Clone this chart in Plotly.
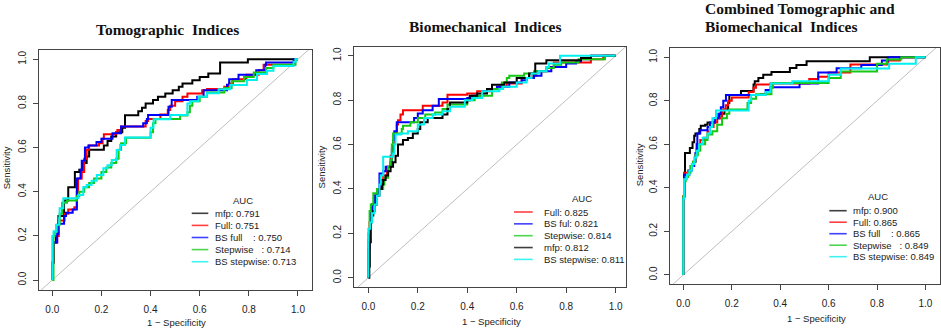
import plotly.graph_objects as go

W, H = 941, 331

# ---------------- data ----------------
TICK_VALS = [0.0, 0.2, 0.4, 0.6, 0.8, 1.0]
TICK_TEXT = ["0.0", "0.2", "0.4", "0.6", "0.8", "1.0"]
DIAG = [-0.2, 1.2]

PANEL_TITLES = [["Tomographic\u00a0 Indices"],
                ["Biomechanical\u00a0 Indices"],
                ["Combined Tomographic and", "Biomechanical\u00a0 Indices"]]
X_TITLE = "1 \u2212 Specificity"
Y_TITLE = "Sensitivity"
LEGEND_TITLE = "AUC"

# Panel 1: Tomographic indices
P1_LABELS = ["mfp: 0.791", "Full: 0.751", "BS full\u00a0\u00a0\u00a0\u00a0: 0.750",
             "Stepwise\u00a0\u00a0\u00a0: 0.714", "BS stepwise: 0.713"]
P1_COLORS = ["black", "red", "blue", "green", "cyan"]
P1_MFP_FPR = [0, 0, 0.007, 0.015, 0.025, 0.048, 0.065, 0.092, 0.11, 0.125, 0.14, 0.15, 0.21, 0.225, 0.24, 0.26, 0.285, 0.296, 0.35, 0.365, 0.38, 0.41, 0.43, 0.46, 0.49, 0.515, 0.53, 0.57, 0.6, 0.635, 0.683, 0.796, 1.0]
P1_MFP_TPR = [0, 0.08, 0.17, 0.2, 0.29, 0.36, 0.42, 0.49, 0.5, 0.53, 0.56, 0.59, 0.61, 0.63, 0.65, 0.67, 0.69, 0.747, 0.765, 0.78, 0.8, 0.815, 0.83, 0.845, 0.86, 0.875, 0.89, 0.905, 0.92, 0.935, 0.985, 1.0, 1.0]
P1_FULL_FPR = [0, 0, 0.007, 0.02, 0.025, 0.05, 0.065, 0.09, 0.1, 0.105, 0.12, 0.13, 0.14, 0.15, 0.19, 0.205, 0.21, 0.26, 0.265, 0.28, 0.38, 0.39, 0.44, 0.47, 0.48, 0.5, 0.53, 0.55, 0.61, 0.63, 0.7, 0.72, 0.735, 0.79, 0.84, 0.86, 0.985, 1.0]
P1_FULL_TPR = [0, 0.08, 0.17, 0.2, 0.27, 0.3, 0.32, 0.33, 0.4, 0.46, 0.49, 0.55, 0.59, 0.61, 0.62, 0.64, 0.66, 0.67, 0.68, 0.695, 0.72, 0.73, 0.75, 0.77, 0.79, 0.81, 0.83, 0.845, 0.86, 0.865, 0.875, 0.89, 0.91, 0.93, 0.95, 0.975, 1.0, 1.0]
P1_BSFULL_FPR = [0, 0, 0.005, 0.02, 0.025, 0.048, 0.056, 0.083, 0.1, 0.115, 0.12, 0.133, 0.147, 0.18, 0.2, 0.245, 0.28, 0.37, 0.385, 0.39, 0.473, 0.486, 0.59, 0.616, 0.711, 0.72, 0.758, 0.83, 0.867, 0.87, 0.982, 1.0]
P1_BSFULL_TPR = [0, 0.08, 0.17, 0.21, 0.255, 0.29, 0.305, 0.32, 0.46, 0.5, 0.54, 0.6, 0.61, 0.625, 0.64, 0.665, 0.695, 0.71, 0.73, 0.748, 0.785, 0.815, 0.83, 0.86, 0.885, 0.91, 0.93, 0.95, 0.975, 0.985, 1.0, 1.0]
P1_STEP_FPR = [0, 0.005, 0.01, 0.02, 0.03, 0.04, 0.06, 0.1, 0.11, 0.13, 0.15, 0.17, 0.2, 0.22, 0.24, 0.26, 0.27, 0.28, 0.3, 0.4, 0.41, 0.42, 0.52, 0.55, 0.56, 0.57, 0.6, 0.63, 0.7, 0.73, 0.78, 0.82, 0.87, 0.9, 0.99, 1.0]
P1_STEP_TPR = [0, 0.2, 0.22, 0.25, 0.3, 0.35, 0.36, 0.38, 0.4, 0.42, 0.44, 0.46, 0.49, 0.51, 0.53, 0.55, 0.59, 0.62, 0.645, 0.67, 0.71, 0.73, 0.745, 0.76, 0.79, 0.81, 0.83, 0.85, 0.87, 0.9, 0.92, 0.94, 0.96, 0.975, 1.0, 1.0]
P1_BSSTEP_FPR = [0, 0, 0.005, 0.015, 0.028, 0.03, 0.045, 0.106, 0.126, 0.14, 0.16, 0.181, 0.208, 0.225, 0.242, 0.262, 0.276, 0.296, 0.4, 0.412, 0.48, 0.55, 0.56, 0.595, 0.629, 0.677, 0.724, 0.792, 0.833, 0.874, 0.9, 0.982, 0.99, 1.0]
P1_BSSTEP_TPR = [0, 0.2, 0.22, 0.25, 0.28, 0.325, 0.37, 0.385, 0.42, 0.43, 0.45, 0.476, 0.506, 0.52, 0.544, 0.589, 0.612, 0.646, 0.69, 0.728, 0.748, 0.8, 0.81, 0.83, 0.846, 0.864, 0.884, 0.906, 0.933, 0.948, 0.969, 0.989, 1.0, 1.0]

# Panel 2: Biomechanical indices
P2_LABELS = ["Full: 0.825", "BS ful: 0.821", "Stepwise: 0.814", "mfp: 0.812", "BS stepwise: 0.811"]
P2_COLORS = ["red", "blue", "green", "black", "cyan"]
P2_FULL_FPR = [0, 0, 0.005, 0.01, 0.015, 0.025, 0.035, 0.05, 0.06, 0.075, 0.09, 0.1, 0.105, 0.115, 0.12, 0.13, 0.14, 0.22, 0.3, 0.32, 0.4, 0.44, 0.5, 0.53, 0.56, 0.62, 0.66, 0.68, 0.72, 0.75, 0.9, 0.95, 1.0]
P2_FULL_TPR = [0, 0.17, 0.25, 0.3, 0.33, 0.37, 0.4, 0.44, 0.46, 0.5, 0.55, 0.6, 0.65, 0.69, 0.71, 0.735, 0.755, 0.775, 0.79, 0.825, 0.83, 0.84, 0.85, 0.86, 0.875, 0.9, 0.91, 0.93, 0.95, 0.97, 0.985, 1.0, 1.0]
P2_BSFUL_FPR = [0, 0, 0.005, 0.007, 0.015, 0.027, 0.04, 0.045, 0.06, 0.07, 0.09, 0.095, 0.1, 0.105, 0.115, 0.185, 0.2, 0.22, 0.26, 0.285, 0.4, 0.42, 0.46, 0.48, 0.52, 0.57, 0.62, 0.64, 0.67, 0.7, 0.74, 0.8, 0.84, 0.86, 0.9, 1.0]
P2_BSFUL_TPR = [0, 0.13, 0.22, 0.3, 0.33, 0.37, 0.4, 0.47, 0.48, 0.5, 0.52, 0.58, 0.62, 0.66, 0.7, 0.72, 0.74, 0.755, 0.775, 0.805, 0.81, 0.82, 0.84, 0.85, 0.86, 0.88, 0.89, 0.9, 0.91, 0.93, 0.95, 0.965, 0.975, 0.985, 1.0, 1.0]
P2_STEP_FPR = [0, 0, 0.005, 0.01, 0.02, 0.035, 0.06, 0.065, 0.08, 0.09, 0.095, 0.1, 0.135, 0.14, 0.17, 0.2, 0.23, 0.27, 0.3, 0.32, 0.4, 0.43, 0.5, 0.54, 0.56, 0.57, 0.63, 0.67, 0.72, 0.75, 0.78, 0.85, 0.957, 1.0]
P2_STEP_TPR = [0, 0.2, 0.3, 0.33, 0.38, 0.4, 0.42, 0.45, 0.5, 0.53, 0.6, 0.65, 0.67, 0.685, 0.7, 0.72, 0.735, 0.745, 0.76, 0.78, 0.8, 0.82, 0.85, 0.88, 0.9, 0.91, 0.92, 0.93, 0.945, 0.96, 0.97, 0.985, 1.0, 1.0]
P2_MFP_FPR = [0, 0.004, 0.006, 0.01, 0.015, 0.02, 0.025, 0.035, 0.045, 0.055, 0.06, 0.07, 0.08, 0.09, 0.1, 0.11, 0.12, 0.14, 0.16, 0.18, 0.2, 0.21, 0.24, 0.3, 0.32, 0.33, 0.4, 0.41, 0.44, 0.48, 0.5, 0.55, 0.6, 0.65, 0.675, 0.72, 0.86, 0.9, 1.0]
P2_MFP_TPR = [0, 0.05, 0.16, 0.25, 0.28, 0.3, 0.33, 0.37, 0.4, 0.42, 0.44, 0.46, 0.48, 0.5, 0.52, 0.55, 0.6, 0.62, 0.63, 0.65, 0.67, 0.7, 0.72, 0.735, 0.76, 0.79, 0.8, 0.82, 0.83, 0.85, 0.87, 0.88, 0.9, 0.92, 0.965, 0.98, 0.99, 1.0, 1.0]
P2_BSSTEP_FPR = [0, 0, 0.007, 0.015, 0.025, 0.035, 0.045, 0.05, 0.06, 0.1, 0.105, 0.11, 0.13, 0.16, 0.2, 0.225, 0.26, 0.3, 0.33, 0.39, 0.42, 0.46, 0.53, 0.545, 0.6, 0.64, 0.66, 0.69, 0.72, 0.73, 0.775, 1.0]
P2_BSSTEP_TPR = [0, 0.22, 0.25, 0.29, 0.33, 0.37, 0.42, 0.46, 0.545, 0.56, 0.6, 0.645, 0.65, 0.66, 0.69, 0.72, 0.735, 0.75, 0.77, 0.8, 0.81, 0.84, 0.85, 0.86, 0.88, 0.9, 0.92, 0.93, 0.95, 0.965, 1.0, 1.0]

# Panel 3: Combined tomographic and biomechanical indices
P3_LABELS = ["mfp: 0.900", "Full: 0.865", "BS full\u00a0\u00a0\u00a0\u00a0: 0.865",
             "Stepwise\u00a0\u00a0\u00a0: 0.849", "BS stepwise: 0.849"]
P3_COLORS = ["black", "red", "blue", "green", "cyan"]
P3_MFP_FPR = [0, 0, 0.005, 0.007, 0.027, 0.038, 0.045, 0.05, 0.066, 0.072, 0.09, 0.1, 0.13, 0.15, 0.17, 0.185, 0.19, 0.238, 0.29, 0.295, 0.31, 0.33, 0.364, 0.44, 0.467, 0.509, 0.77, 1.0]
P3_MFP_TPR = [0, 0.36, 0.45, 0.56, 0.583, 0.61, 0.64, 0.65, 0.67, 0.685, 0.69, 0.7, 0.72, 0.74, 0.76, 0.79, 0.827, 0.845, 0.875, 0.89, 0.905, 0.92, 0.932, 0.951, 0.965, 0.982, 1.0, 1.0]
P3_FULL_FPR = [0, 0, 0.003, 0.02, 0.03, 0.04, 0.05, 0.055, 0.06, 0.07, 0.085, 0.1, 0.11, 0.125, 0.14, 0.16, 0.175, 0.185, 0.2, 0.27, 0.29, 0.3, 0.36, 0.52, 0.557, 0.6, 0.69, 0.846, 0.894, 1.0]
P3_FULL_TPR = [0, 0.36, 0.47, 0.48, 0.5, 0.52, 0.55, 0.58, 0.6, 0.62, 0.63, 0.66, 0.68, 0.7, 0.72, 0.76, 0.78, 0.8, 0.815, 0.84, 0.86, 0.875, 0.88, 0.9, 0.91, 0.93, 0.967, 0.985, 1.0, 1.0]
P3_BSFULL_FPR = [0, 0, 0.003, 0.025, 0.035, 0.045, 0.05, 0.055, 0.058, 0.07, 0.1, 0.11, 0.13, 0.145, 0.155, 0.165, 0.176, 0.32, 0.34, 0.36, 0.48, 0.557, 0.633, 0.735, 0.82, 0.846, 1.0]
P3_BSFULL_TPR = [0, 0.35, 0.46, 0.48, 0.5, 0.52, 0.56, 0.6, 0.65, 0.665, 0.68, 0.7, 0.72, 0.74, 0.77, 0.8, 0.827, 0.83, 0.85, 0.862, 0.88, 0.93, 0.95, 0.965, 0.985, 1.0, 1.0]
P3_STEP_FPR = [0, 0, 0.005, 0.01, 0.02, 0.03, 0.04, 0.05, 0.06, 0.07, 0.09, 0.1, 0.12, 0.14, 0.16, 0.18, 0.19, 0.265, 0.28, 0.3, 0.364, 0.37, 0.6, 0.65, 0.8, 0.84, 0.9, 1.0]
P3_STEP_TPR = [0, 0.36, 0.43, 0.45, 0.47, 0.5, 0.52, 0.55, 0.57, 0.6, 0.62, 0.645, 0.66, 0.69, 0.72, 0.74, 0.76, 0.79, 0.81, 0.83, 0.86, 0.882, 0.905, 0.935, 0.97, 0.99, 1.0, 1.0]
P3_BSSTEP_FPR = [0, 0, 0.003, 0.015, 0.025, 0.035, 0.045, 0.055, 0.065, 0.08, 0.1, 0.11, 0.12, 0.135, 0.27, 0.28, 0.34, 0.36, 0.45, 0.6, 0.65, 0.85, 0.96, 1.0]
P3_BSSTEP_TPR = [0, 0.35, 0.44, 0.46, 0.48, 0.51, 0.54, 0.57, 0.6, 0.63, 0.65, 0.68, 0.72, 0.755, 0.8, 0.827, 0.84, 0.88, 0.89, 0.92, 0.948, 0.97, 1.0, 1.0]

PANEL_CURVES = [
    [(P1_MFP_FPR, P1_MFP_TPR), (P1_FULL_FPR, P1_FULL_TPR), (P1_BSFULL_FPR, P1_BSFULL_TPR),
     (P1_STEP_FPR, P1_STEP_TPR), (P1_BSSTEP_FPR, P1_BSSTEP_TPR)],
    [(P2_FULL_FPR, P2_FULL_TPR), (P2_BSFUL_FPR, P2_BSFUL_TPR), (P2_STEP_FPR, P2_STEP_TPR),
     (P2_MFP_FPR, P2_MFP_TPR), (P2_BSSTEP_FPR, P2_BSSTEP_TPR)],
    [(P3_MFP_FPR, P3_MFP_TPR), (P3_FULL_FPR, P3_FULL_TPR), (P3_BSFULL_FPR, P3_BSFULL_TPR),
     (P3_STEP_FPR, P3_STEP_TPR), (P3_BSSTEP_FPR, P3_BSSTEP_TPR)],
]
PANEL_LABELS = [P1_LABELS, P2_LABELS, P3_LABELS]
PANEL_COLORS = [P1_COLORS, P2_COLORS, P3_COLORS]

# ---------------- styling / layout ----------------
COLOR_MAP = {"black": "#000000", "red": "#FF0000", "blue": "#0000FF",
             "green": "#14C814", "cyan": "#00F0F0"}

# plot boxes in pixels (left, right, top, bottom) and axis ranges
BOXES = [(39, 312, 50, 290), (354, 626, 46.7, 287), (670, 940, 47.7, 284.3)]
XRANGES = [[-0.054, 1.057], [-0.058, 1.042], [-0.055, 1.06]]
YRANGES = [[-0.045, 1.042], [-0.042, 1.041], [-0.043, 1.044]]

# legend geometry (px): line x0, line x1, text x, AUC center x, AUC y, first entry y, spacing
LEGENDS = [(191.7, 208.3, 213.3, 243.3, 200.0, 213.3, 12.1),
           (514.0, 532.7, 541.7, 582.0, 198.3, 212.0, 11.85),
           (829.3, 846.7, 851.0, 877.5, 196.7, 210.7, 11.5)]

# title positions (px): x, list of line y, anchor
TITLE_POS = [(167, [29], "center"), (485, [27], "center"), (703, [8, 26.5], "left")]
YLAB_POS = [(6, 168.3), (321.7, 166.7), (639, 165.3)]
XLAB_POS = [(176.7, 322.5), (491.7, 321.7), (816, 318.3)]

SANS = "Liberation Sans, Arial, sans-serif"
SERIF = "Liberation Serif, Times New Roman, serif"


def px(x):
    return x / W


def py(y):
    return 1 - y / H


fig = go.Figure()
annotations = []
shapes = []

for i in range(3):
    xa = "x" if i == 0 else f"x{i+1}"
    ya = "y" if i == 0 else f"y{i+1}"
    # diagonal reference line
    fig.add_trace(go.Scatter(x=DIAG, y=DIAG, mode="lines", xaxis=xa, yaxis=ya,
                             line=dict(color="#BEBEBE", width=1), showlegend=False,
                             hoverinfo="skip"))
    for (fpr, tpr), cname in zip(PANEL_CURVES[i], PANEL_COLORS[i]):
        fig.add_trace(go.Scatter(x=fpr, y=tpr, mode="lines", xaxis=xa, yaxis=ya,
                                 line=dict(color=COLOR_MAP[cname], width=2, shape="hv"),
                                 showlegend=False))
    l, r, t, b = BOXES[i]
    axis_common = dict(showgrid=False, zeroline=False, showline=True, mirror=True,
                       linecolor="#444444", linewidth=1, ticks="outside", ticklen=5,
                       tickwidth=1, tickcolor="#444444", tickvals=TICK_VALS,
                       ticktext=TICK_TEXT, tickfont=dict(family=SANS, size=10, color="#222222"),
                       fixedrange=True)
    fig.update_layout(**{
        ("xaxis" if i == 0 else f"xaxis{i+1}"): dict(
            domain=[px(l), px(r)], range=XRANGES[i], anchor=ya, ticklabelstandoff=5,
            **axis_common),
        ("yaxis" if i == 0 else f"yaxis{i+1}"): dict(
            domain=[py(b), py(t)], range=YRANGES[i], anchor=xa, tickangle=-90,
            ticklabelstandoff=3, **axis_common),
    })

    # titles
    tx, tys, al = TITLE_POS[i]
    for line_text, ty in zip(PANEL_TITLES[i], tys):
        annotations.append(dict(x=px(tx), y=py(ty), xref="paper", yref="paper",
                                text=f"<b>{line_text}</b>", showarrow=False,
                                xanchor=al, yanchor="middle", align="left",
                                font=dict(family=SERIF, size=15.5, color="#111111")))
    # axis titles
    yx, yy = YLAB_POS[i]
    annotations.append(dict(x=px(yx), y=py(yy), xref="paper", yref="paper", text=Y_TITLE,
                            textangle=-90, showarrow=False, xanchor="center", yanchor="middle",
                            font=dict(family=SANS, size=9.5, color="#222222")))
    xx, xy = XLAB_POS[i]
    annotations.append(dict(x=px(xx), y=py(xy), xref="paper", yref="paper", text=X_TITLE,
                            showarrow=False, xanchor="center", yanchor="middle",
                            font=dict(family=SANS, size=9.5, color="#222222")))

    # legend
    lx0, lx1, ltx, acx, acy, ey0, dy = LEGENDS[i]
    annotations.append(dict(x=px(acx), y=py(acy), xref="paper", yref="paper",
                            text=LEGEND_TITLE, showarrow=False, xanchor="center",
                            yanchor="middle", font=dict(family=SANS, size=9.5, color="#222222")))
    for k, (lab, cname) in enumerate(zip(PANEL_LABELS[i], PANEL_COLORS[i])):
        yy_ = ey0 + k * dy
        shapes.append(dict(type="line", xref="paper", yref="paper", x0=px(lx0), x1=px(lx1),
                           y0=py(yy_), y1=py(yy_),
                           line=dict(color=COLOR_MAP[cname], width=1.6), opacity=0.75))
        annotations.append(dict(x=px(ltx), y=py(yy_), xref="paper", yref="paper", text=lab,
                                showarrow=False, xanchor="left", yanchor="middle",
                                font=dict(family=SANS, size=9.5, color="#222222")))

fig.update_layout(width=W, height=H, margin=dict(l=0, r=0, t=0, b=0),
                  paper_bgcolor="white", plot_bgcolor="white", showlegend=False,
                  annotations=annotations, shapes=shapes)

fig.write_html("out.html", config={"displayModeBar": False},
               post_script="document.body.style.margin='0';document.body.style.overflow='hidden';")
